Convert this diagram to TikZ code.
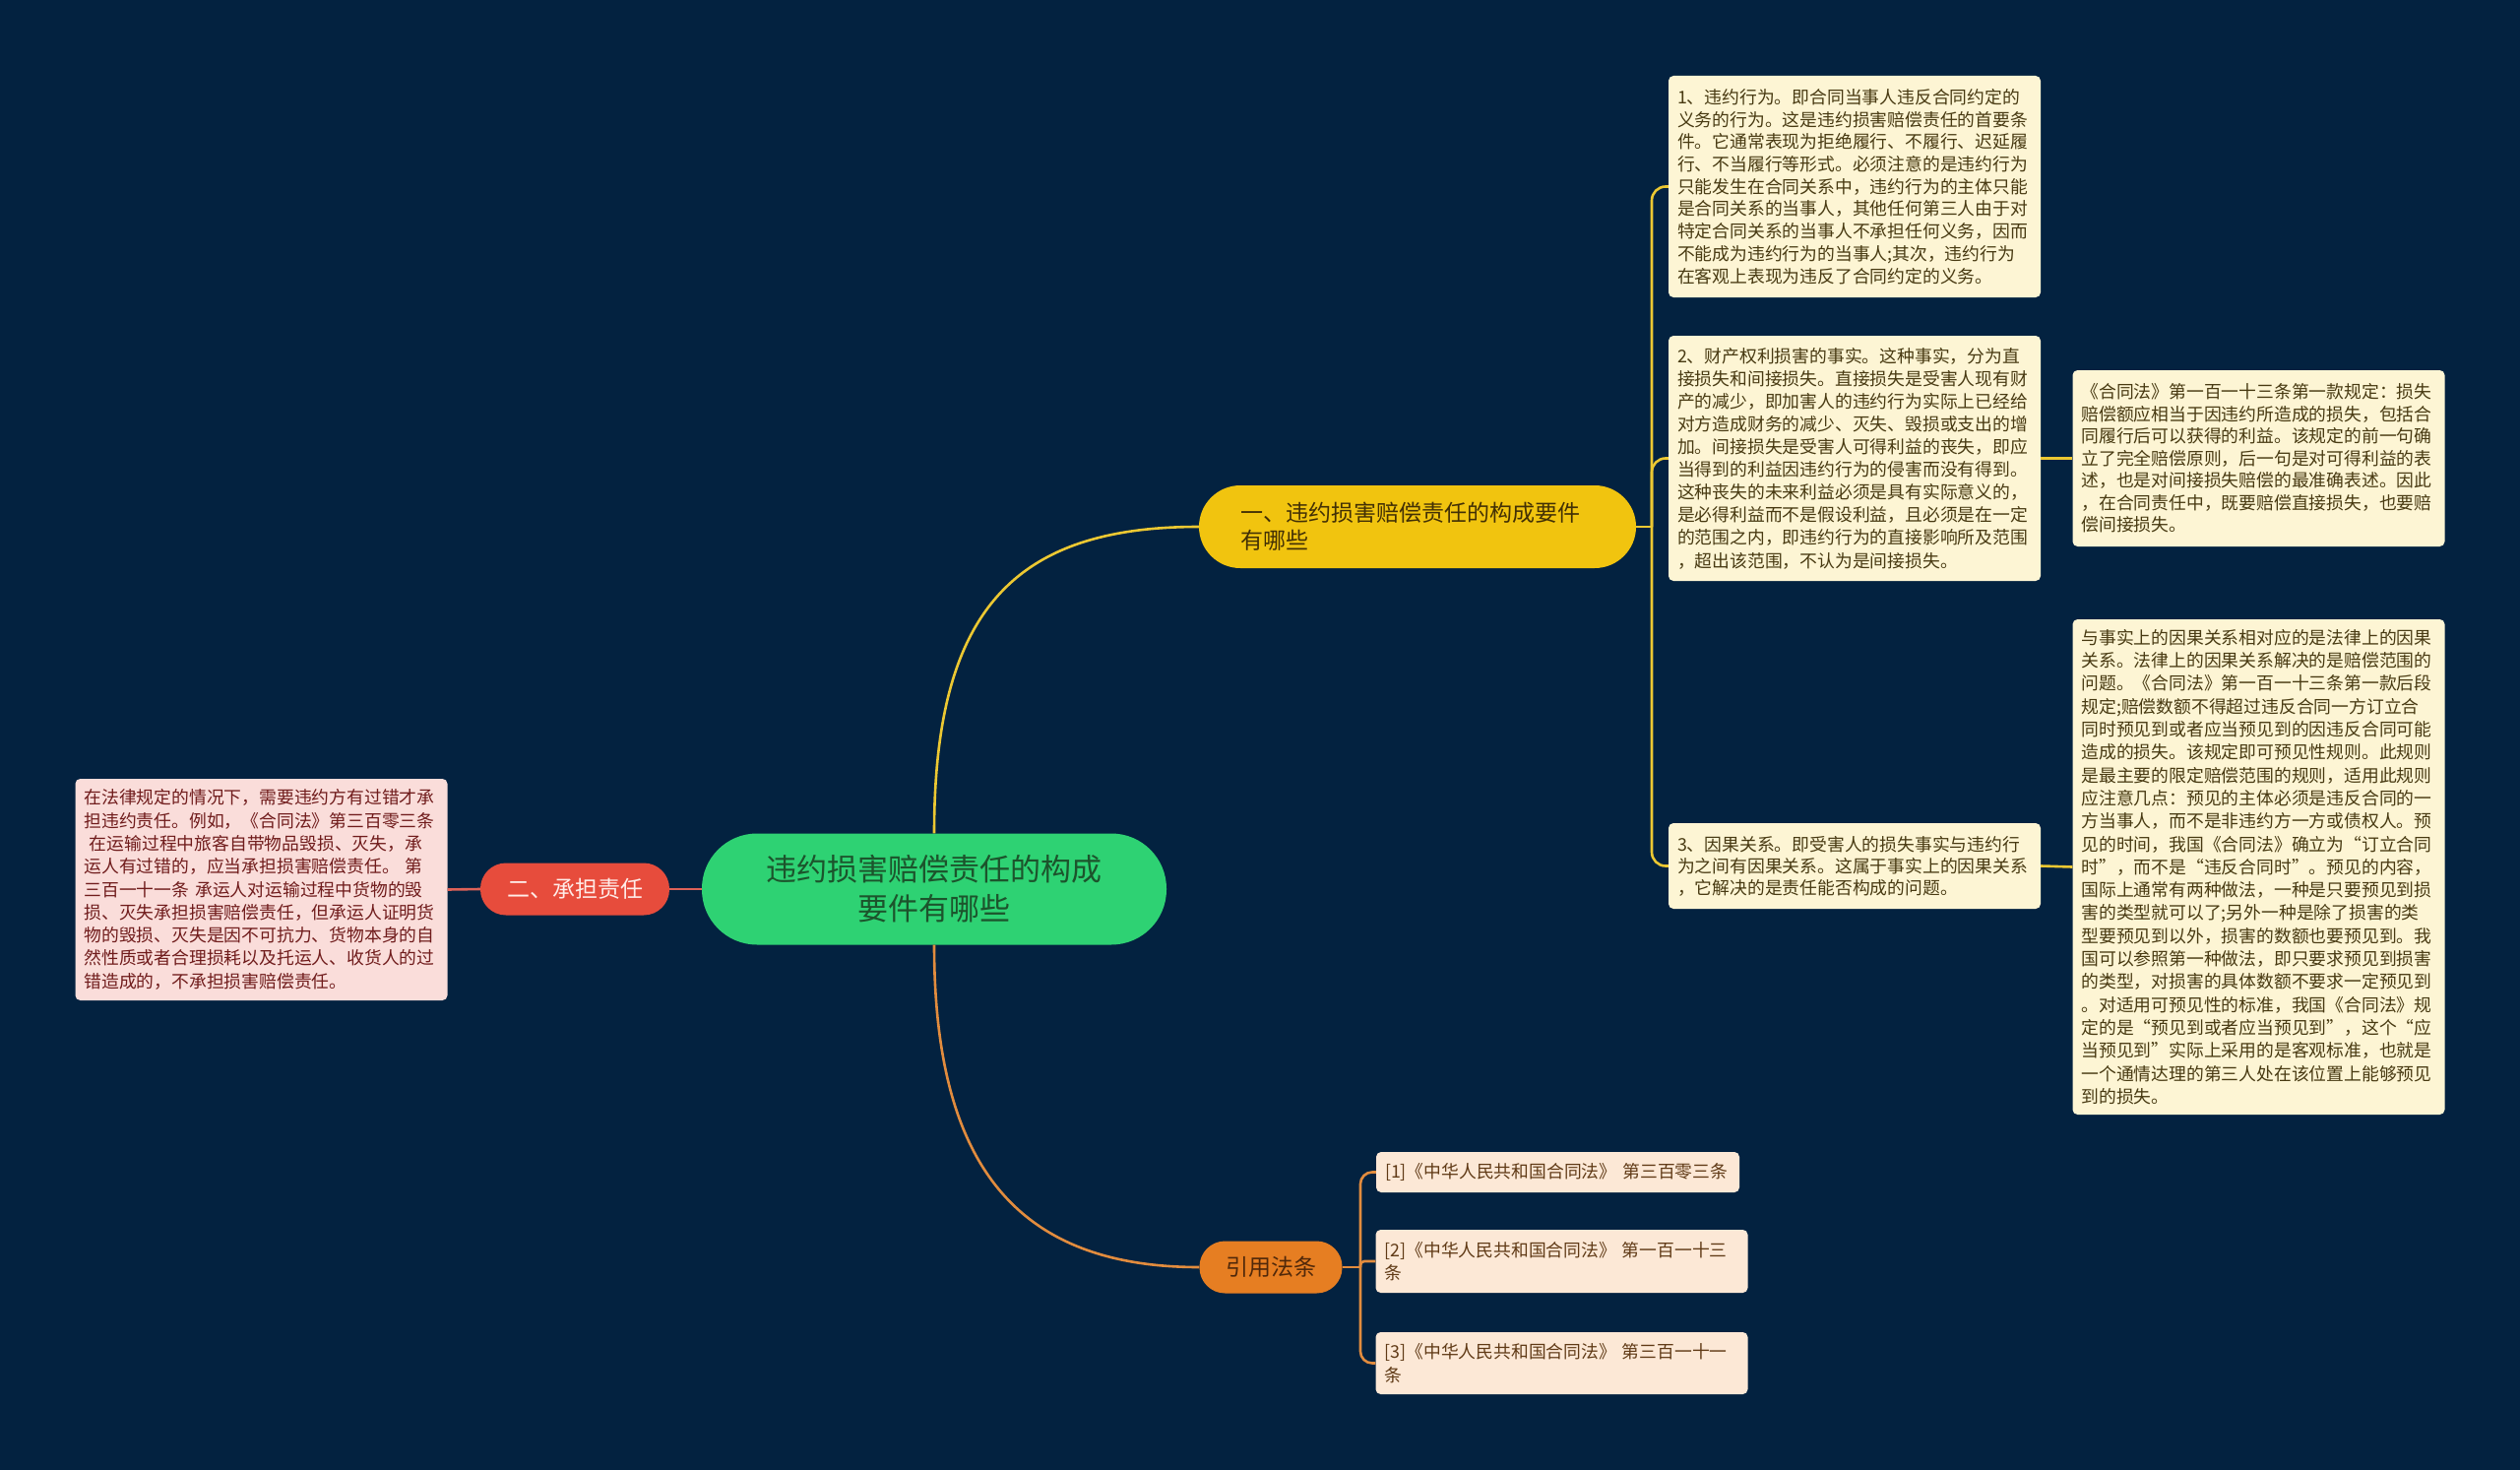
\documentclass[tikz,border=0pt]{standalone}
\usepackage{fontspec}
\newfontfamily\cjk{Noto Sans CJK SC}
\definecolor{bg}{RGB}{3,34,64}
\definecolor{cgreen}{RGB}{46,210,115}
\definecolor{ctext}{RGB}{28,84,44}
\definecolor{cyellow}{RGB}{241,196,15}
\definecolor{ytext}{RGB}{66,48,5}
\definecolor{yline}{RGB}{236,200,50}
\definecolor{cred}{RGB}{231,76,60}
\definecolor{rline}{RGB}{222,98,88}
\definecolor{rtext}{RGB}{255,236,232}
\definecolor{corange}{RGB}{230,126,34}
\definecolor{oline}{RGB}{226,140,62}
\definecolor{otext}{RGB}{80,40,10}
\definecolor{yfill}{RGB}{253,245,212}
\definecolor{ybtext}{RGB}{72,58,18}
\definecolor{pfill}{RGB}{250,221,218}
\definecolor{ptext}{RGB}{112,28,28}
\definecolor{rfill}{RGB}{252,232,214}
\definecolor{rftext}{RGB}{96,58,22}
\begin{document}
\begin{tikzpicture}[x=1pt,y=-1pt,
  pill/.style={rounded corners=#1, inner sep=0pt},
  detail/.style={rounded corners=5pt, inner xsep=9pt, inner ysep=0pt, align=left,
    text width=360pt, minimum width=378pt},
  lines/.style={font=\cjk\fontsize{17.8}{#1}\selectfont},
  ybox/.style={detail, fill=yfill, text=ybtext},
  pbox/.style={detail, fill=pfill, text=ptext},
  rbox/.style={detail, fill=rfill, text=rftext},
  yl/.style={draw=yline, line width=2.6pt},
  rl/.style={draw=rline, line width=2.6pt},
  ol/.style={draw=oline, line width=2.6pt},
]
\fill[bg] (0,0) rectangle (2560,1493);
\useasboundingbox (0,0) rectangle (2560,1493);

% central topic
\node[pill=56pt, fill=cgreen, text=ctext, minimum width=472pt, minimum height=113pt,
  align=center, font=\cjk\fontsize{31}{40}\selectfont] (c) at (949,903)
  {违约损害赔偿责任的构成\\要件有哪些};

% main branches
\node[pill=42pt, fill=cyellow, text=ytext, minimum width=444pt, minimum height=84pt,
  inner xsep=42pt, text width=360pt, align=left, font=\cjk\fontsize{23}{28}\selectfont]
  (y) at (1440,535) {一、违约损害赔偿责任的构成要件\\有哪些};
\node[pill=26pt, fill=cred, text=rtext, minimum width=192pt, minimum height=53pt,
  font=\cjk\fontsize{23}{28}\selectfont] (r) at (584,903) {二、承担责任};
\node[pill=26pt, fill=corange, text=otext, minimum width=145pt, minimum height=53pt,
  font=\cjk\fontsize{23}{28}\selectfont] (o) at (1291,1287) {引用法条};

% yellow branch details
\node[ybox, lines=22.7, minimum height=225pt] (b1) at (1884,189.5)
{1、违约行为。即合同当事人违反合同约定的\\
义务的行为。这是违约损害赔偿责任的首要条\\
件。它通常表现为拒绝履行、不履行、迟延履\\
行、不当履行等形式。必须注意的是违约行为\\
只能发生在合同关系中，违约行为的主体只能\\
是合同关系的当事人，其他任何第三人由于对\\
特定合同关系的当事人不承担任何义务，因而\\
不能成为违约行为的当事人;其次，违约行为\\
在客观上表现为违反了合同约定的义务。};

\node[ybox, lines=23.1, minimum height=249pt] (b2) at (1884,465.5)
{2、财产权利损害的事实。这种事实，分为直\\
接损失和间接损失。直接损失是受害人现有财\\
产的减少，即加害人的违约行为实际上已经给\\
对方造成财务的减少、灭失、毁损或支出的增\\
加。间接损失是受害人可得利益的丧失，即应\\
当得到的利益因违约行为的侵害而没有得到。\\
这种丧失的未来利益必须是具有实际意义的，\\
是必得利益而不是假设利益，且必须是在一定\\
的范围之内，即违约行为的直接影响所及范围\\
，超出该范围，不认为是间接损失。};

\node[ybox, lines=22.5, minimum height=179pt] (b2r) at (2294.5,465.5)
{《合同法》第一百一十三条第一款规定：损失\\
赔偿额应相当于因违约所造成的损失，包括合\\
同履行后可以获得的利益。该规定的前一句确\\
立了完全赔偿原则，后一句是对可得利益的表\\
述，也是对间接损失赔偿的最准确表述。因此\\
，在合同责任中，既要赔偿直接损失，也要赔\\
偿间接损失。};

\node[ybox, lines=22, minimum height=87pt] (b3) at (1884,879.5)
{3、因果关系。即受害人的损失事实与违约行\\
为之间有因果关系。这属于事实上的因果关系\\
，它解决的是责任能否构成的问题。};

\node[ybox, lines=23.3, minimum height=503pt] (b3r) at (2294.5,880.5)
{与事实上的因果关系相对应的是法律上的因果\\
关系。法律上的因果关系解决的是赔偿范围的\\
问题。《合同法》第一百一十三条第一款后段\\
规定;赔偿数额不得超过违反合同一方订立合\\
同时预见到或者应当预见到的因违反合同可能\\
造成的损失。该规定即可预见性规则。此规则\\
是最主要的限定赔偿范围的规则，适用此规则\\
应注意几点：预见的主体必须是违反合同的一\\
方当事人，而不是非违约方一方或债权人。预\\
见的时间，我国《合同法》确立为“订立合同\\
时”，而不是“违反合同时”。预见的内容，\\
国际上通常有两种做法，一种是只要预见到损\\
害的类型就可以了;另外一种是除了损害的类\\
型要预见到以外，损害的数额也要预见到。我\\
国可以参照第一种做法，即只要求预见到损害\\
的类型，对损害的具体数额不要求一定预见到\\
。对适用可预见性的标准，我国《合同法》规\\
定的是“预见到或者应当预见到”，这个“应\\
当预见到”实际上采用的是客观标准，也就是\\
一个通情达理的第三人处在该位置上能够预见\\
到的损失。};

% red branch detail
\node[pbox, lines=23.3, minimum height=225pt] (lb) at (265.5,903.5)
{在法律规定的情况下，需要违约方有过错才承\\
担违约责任。例如，《合同法》第三百零三条\\
\hspace*{0.3em}在运输过程中旅客自带物品毁损、灭失，承\\
运人有过错的，应当承担损害赔偿责任。 第\\
三百一十一条 承运人对运输过程中货物的毁\\
损、灭失承担损害赔偿责任，但承运人证明货\\
物的毁损、灭失是因不可抗力、货物本身的自\\
然性质或者合理损耗以及托运人、收货人的过\\
错造成的，不承担损害赔偿责任。};

% references
\node[rbox, lines=23.3, minimum width=369pt, text width=351pt, minimum height=41pt] (f1) at (1582.5,1190.5)
{[1]《中华人民共和国合同法》 第三百零三条};
\node[rbox, lines=23.3, minimum height=64pt] (f2) at (1586.5,1281)
{[2]《中华人民共和国合同法》 第一百一十三\\条};
\node[rbox, lines=23.3, minimum height=63pt] (f3) at (1586.5,1384.5)
{[3]《中华人民共和国合同法》 第三百一十一\\条};

% junction points
\coordinate (yj) at (1678,535);
\coordinate (oj) at (1382,1287);

% connectors
\draw[yl] (c.north) .. controls (949,620) and (1030,535) .. (y.west);
\draw[ol] (c.south) .. controls (949,1180) and (1030,1287) .. (o.west);
\draw[rl] (r.east) -- (c.west);
\draw[rl] (lb.east) -- (r.west);

\draw[yl] (y.east) -- (yj);
\draw[yl, rounded corners=14pt] (yj) |- (b1.west);
\draw[yl, rounded corners=14pt] (yj) |- (b2.west);
\draw[yl, rounded corners=14pt] (yj) |- (b3.west);
\draw[yl] (b2.east) -- (b2r.west);
\draw[yl] (b3.east) -- (b3r.west);

\draw[ol] (o.east) -- (oj);
\draw[ol, rounded corners=12pt] (oj) |- (f1.west);
\draw[ol, rounded corners=4pt] (oj) |- (f2.west);
\draw[ol, rounded corners=12pt] (oj) |- (f3.west);
\end{tikzpicture}
\end{document}
